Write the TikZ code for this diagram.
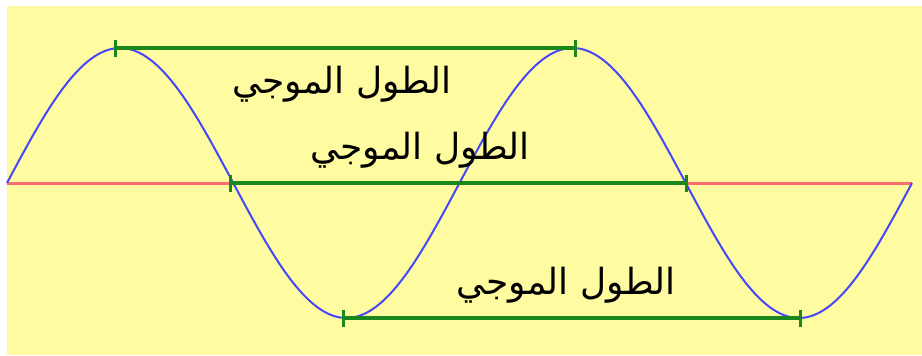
\documentclass[tikz,border=0pt]{standalone}
\usepackage{fontspec}
\usepackage{tikz}
\newfontfamily\arabicfont[Script=Arabic]{DejaVu Sans}
\TeXXeTstate=1
\definecolor{bgyellow}{RGB}{255,251,160}
\definecolor{wavblue}{RGB}{70,70,250}
\definecolor{axisred}{RGB}{255,110,110}
\definecolor{lengreen}{RGB}{25,135,25}
\tikzset{
  wavelen/.style={lengreen, line width=3.4pt},
  tickmark/.style={lengreen, line width=3pt},
  lbl/.style={font=\arabicfont\fontsize{36}{40}\selectfont, inner sep=0pt}
}
\begin{document}
\begin{tikzpicture}[x=1pt,y=-1pt]
\useasboundingbox (0,0) rectangle (922,356);
\fill[white] (0,0) rectangle (922,356);
\fill[bgyellow] (7,6) rectangle (922,355);

		\draw [axisred, line width=3pt] (7,183)--(912,183);
		\draw [wavblue, line width=2pt, domain=7:912, samples=200, smooth] plot (\x, {183-135*sin((\x-7)/452.5*360)});

			\coordinate (a1) at (115,48);
			\coordinate (a2) at (575,48);
			\coordinate (b1) at (230,183);
			\coordinate (b2) at (686,183);
			\coordinate (c1) at (343,318);
			\coordinate (c2) at (800,318);

			\draw [wavelen] (a1)--(a2);
			\draw [wavelen] (b1)--(b2);
			\draw [wavelen] (c1)--(c2);

			\foreach \p in {a1,a2,b1,b2,c1,c2}
			  \draw [tickmark] (\p)+(0,-8.5)--+(0,8.5);

			\node[lbl] (la) at (342,84)  {\beginR الطول الموجي\endR};
			\node[lbl] (lb) at (420,150) {\beginR الطول الموجي\endR};
			\node[lbl] (lc) at (566,285) {\beginR الطول الموجي\endR};
\end{tikzpicture}
\end{document}
